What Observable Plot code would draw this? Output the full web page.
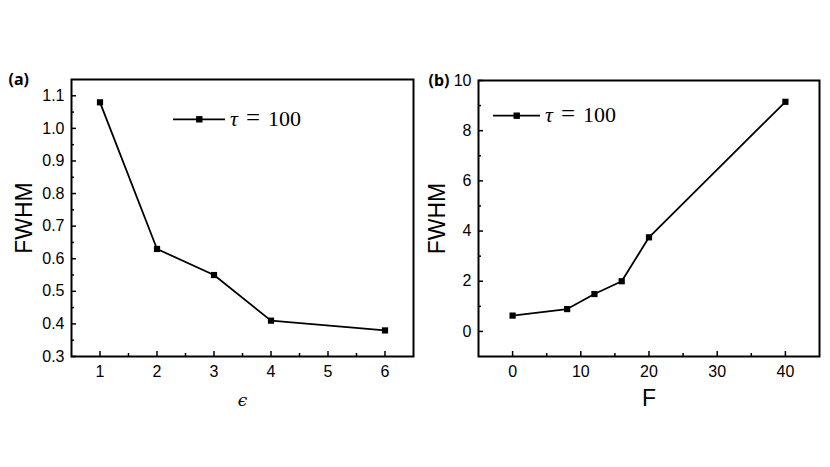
<!DOCTYPE html>
<html>
<head>
<meta charset="utf-8">
<script src="https://cdn.jsdelivr.net/npm/d3@7"></script>
<script src="https://cdn.jsdelivr.net/npm/@observablehq/plot@0.6"></script>
<style>
  body { margin: 0; background: #fff; }
  #wrap { position: relative; width: 830px; height: 467px; overflow: hidden; background: #fff; }
  #wrap > svg { position: absolute; top: 0; overflow: visible; }
</style>
</head>
<body>
<div id="wrap"></div>
<script>
// ---- Panel (a) data ----
const epsA = [1, 2, 3, 4, 6];
const fwhmA = [1.08, 0.63, 0.55, 0.41, 0.38];
const xTicksA = [1, 2, 3, 4, 5, 6];
const xMinorA = [1.5, 2.5, 3.5, 4.5, 5.5];
const yTicksA = [0.3, 0.4, 0.5, 0.6, 0.7, 0.8, 0.9, 1.0, 1.1];
const yMinorA = [0.35, 0.45, 0.55, 0.65, 0.75, 0.85, 0.95, 1.05];

// ---- Panel (b) data ----
const forceB = [0, 8, 12, 16, 20, 40];
const fwhmB = [0.63, 0.89, 1.49, 2.0, 3.75, 9.15];
const xTicksB = [0, 10, 20, 30, 40];
const xMinorB = [5, 15, 25, 35];
const yTicksB = [0, 2, 4, 6, 8, 10];
const yMinorB = [1, 3, 5, 7, 9];

const legendTau = "τ";
const legendRest = ["=", "100"];

const SANS = "'Liberation Sans', Arial, Helvetica, sans-serif";
const SERIF = "'Liberation Serif', 'Times New Roman', serif";

function panel(cfg) {
  const W = 415, H = 467;
  const plotW = W - cfg.ml - cfg.mr;
  const plotH = H - cfg.mt - cfg.mb;
  const data = cfg.xs.map((x, i) => ({x, y: cfg.ys[i]}));
  const svg = Plot.plot({
    width: W, height: H,
    marginLeft: cfg.ml, marginRight: cfg.mr, marginTop: cfg.mt, marginBottom: cfg.mb,
    style: {fontFamily: SANS, background: "transparent", color: "#000", overflow: "visible"},
    x: {domain: cfg.xDomain},
    y: {domain: cfg.yDomain},
    marks: [
      Plot.axisX(cfg.xTicks, {tickSize: 0, tickPadding: 9, fontSize: 16, label: null, fill: "#000"}),
      Plot.axisY(cfg.yTicks, {tickSize: 0, tickPadding: 7, fontSize: 16, label: null, fill: "#000", tickFormat: cfg.yFormat}),
      Plot.tickX(cfg.xTicks, {x: d => d, insetTop: plotH - 5, stroke: "#000", strokeWidth: 1.5}),
      Plot.tickX(cfg.xMinor, {x: d => d, insetTop: plotH - 3, stroke: "#000", strokeWidth: 1.5}),
      Plot.tickY(cfg.yTicks, {y: d => d, insetRight: plotW - 5, stroke: "#000", strokeWidth: 1.5}),
      Plot.tickY(cfg.yMinor, {y: d => d, insetRight: plotW - 3, stroke: "#000", strokeWidth: 1.5}),
      Plot.line(data, {x: "x", y: "y", stroke: "#000", strokeWidth: 1.8}),
      Plot.dot(data, {x: "x", y: "y", symbol: "square", r: 3.5, fill: "#000", stroke: "none"}),
      Plot.frame({stroke: "#000", strokeWidth: 2}),
      Plot.text(["FWHM"], {text: d => d, frameAnchor: "left", dx: cfg.yLabelDx, rotate: -90,
        fontSize: 23, fontFamily: SANS, fill: "#000", textAnchor: "middle", lineAnchor: "middle"}),
      Plot.text([cfg.xLabel], {text: d => d, frameAnchor: "bottom", dy: cfg.xLabelDy,
        fontSize: cfg.xLabelSize, fontFamily: cfg.xLabelFont, fontStyle: cfg.xLabelStyle, fill: "#000",
        textAnchor: "middle", lineAnchor: "middle"}),
      Plot.text([cfg.panelLabel], {text: d => d, frameAnchor: "top-left", dx: cfg.panelDx, dy: 0,
        fontSize: 16, fontFamily: "'Noto Sans', 'Open Sans', sans-serif", fontWeight: "bold", fill: "#000",
        textAnchor: "start", lineAnchor: "middle"})
    ]
  });
  svg.style.left = cfg.left + "px";
  // legend
  const g = d3.select(svg).append("g").attr("class", "legend");
  const L = cfg.legend;
  g.append("line").attr("x1", L.x1).attr("x2", L.x2).attr("y1", L.y).attr("y2", L.y)
    .style("stroke", "#000").style("stroke-width", "1.8px");
  g.append("rect").attr("x", L.mx - 3.2).attr("y", L.y - 3.2).attr("width", 6.4).attr("height", 6.4).style("fill", "#000");
  const t = g.append("text").attr("x", L.tx).attr("y", L.y + 6.5)
    .style("font-family", SERIF).style("font-size", "22px").style("fill", "#000")
    .style("text-anchor", "start").style("dominant-baseline", "auto");
  t.append("tspan").style("font-style", "italic").text(legendTau);
  t.append("tspan").attr("dx", 8).style("font-size", "25px").text(legendRest[0]);
  t.append("tspan").attr("dx", 8).text(legendRest[1]);
  document.getElementById("wrap").appendChild(svg);
}

panel({
  left: 0, ml: 71, mr: 2, mt: 79, mb: 111,
  xs: epsA, ys: fwhmA,
  xDomain: [0.5, 6.5], yDomain: [0.3, 1.15],
  xTicks: xTicksA, xMinor: xMinorA, yTicks: yTicksA, yMinor: yMinorA,
  yFormat: d3.format(".1f"),
  yLabelDx: -47, xLabel: "ϵ", xLabelDy: 44, xLabelSize: 17, xLabelFont: "'DejaVu Serif', serif", xLabelStyle: "italic",
  panelLabel: "(a)", panelDx: -63,
  legend: {x1: 173, x2: 225, mx: 199.3, y: 119.3, tx: 230}
});

panel({
  left: 415, ml: 63, mr: 11, mt: 80, mb: 111,
  xs: forceB, ys: fwhmB,
  xDomain: [-5, 45], yDomain: [-1, 10],
  xTicks: xTicksB, xMinor: xMinorB, yTicks: yTicksB, yMinor: yMinorB,
  yFormat: d3.format("d"),
  yLabelDx: -41, xLabel: "F", xLabelDy: 42, xLabelSize: 23, xLabelFont: SANS, xLabelStyle: "normal",
  panelLabel: "(b)", panelDx: -50,
  legend: {x1: 78, x2: 125, mx: 101.7, y: 115.7, tx: 130}
});
</script>
</body>
</html>
